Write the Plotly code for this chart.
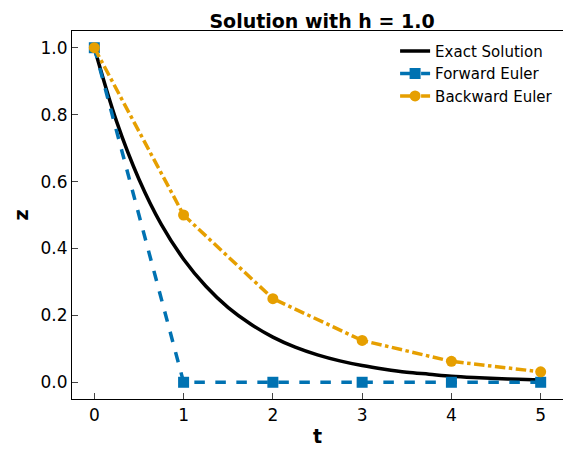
import plotly.graph_objects as go

t_exact = [0, 0.25, 0.5, 0.75, 1, 1.25, 1.5, 1.75, 2, 2.25, 2.5, 2.75, 3, 3.25, 3.5, 3.75, 4, 4.25, 4.5, 4.75, 5]
z_exact = [1.0, 0.779, 0.607, 0.472, 0.368, 0.287, 0.223, 0.174, 0.135, 0.105, 0.082, 0.064, 0.050, 0.039, 0.030, 0.024, 0.018, 0.014, 0.011, 0.009, 0.007]
t_steps = [0, 1, 2, 3, 4, 5]
z_forward = [1.0, 0.0, 0.0, 0.0, 0.0, 0.0]
z_backward = [1.0, 0.5, 0.25, 0.125, 0.0625, 0.03125]

fig = go.Figure()
fig.add_trace(go.Scatter(x=t_exact, y=z_exact, mode="lines", name="Exact Solution",
                         line=dict(color="black", width=3.5, shape="spline")))
fig.add_trace(go.Scatter(x=t_steps, y=z_forward, mode="lines+markers", name="Forward Euler",
                         line=dict(color="#0072B2", width=3.5, dash="dash"),
                         marker=dict(symbol="square", size=11)))
fig.add_trace(go.Scatter(x=t_steps, y=z_backward, mode="lines+markers", name="Backward Euler",
                         line=dict(color="#E69F00", width=3.5, dash="dashdot"),
                         marker=dict(symbol="circle", size=11)))

ax = dict(showline=True, linecolor="black", linewidth=1.2, mirror=True, ticks="inside",
          ticklen=6, tickwidth=1.2, showgrid=False, zeroline=False,
          tickfont=dict(size=17, color="black"))
fig.update_layout(
    width=571, height=458, plot_bgcolor="white", paper_bgcolor="white",
    font=dict(family="DejaVu Sans", color="black"),
    margin=dict(l=64, r=16, t=23, b=67),
    title=dict(text="<b>Solution with h = 1.0</b>", x=0.55, xanchor="center", y=0.985,
               font=dict(size=19)),
    xaxis=dict(ax, range=[-0.25, 5.25], tickvals=t_steps,
               title=dict(text="<b>t</b>", font=dict(size=19), standoff=6)),
    yaxis=dict(ax, range=[-0.05, 1.05], tickvals=[0, 0.2, 0.4, 0.6, 0.8, 1.0],
               tickformat=".1f", title=dict(text="<b>z</b>", font=dict(size=19), standoff=6)),
    legend=dict(x=0.99, y=0.99, xanchor="right", yanchor="top", bgcolor="rgba(255,255,255,0.8)",
                font=dict(size=15)),
)
fig.write_html("out.html")
